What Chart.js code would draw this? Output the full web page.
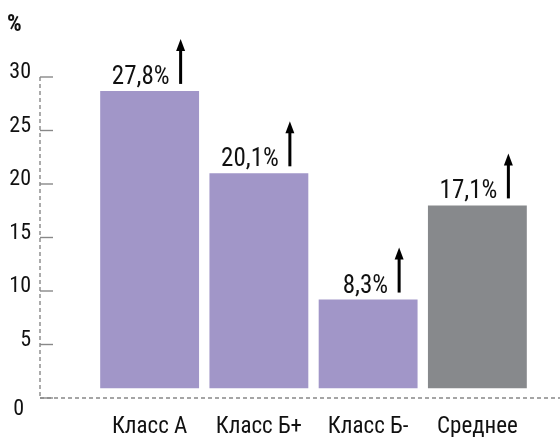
<!DOCTYPE html>
<html>
<head>
<meta charset="utf-8">
<script src="https://cdn.jsdelivr.net/npm/chart.js@4"></script>
<style>
  html, body { margin: 0; padding: 0; background: #fff; }
  #wrap { width: 560px; height: 437px; position: relative; }
</style>
</head>
<body>
<div id="wrap"><canvas id="grafica"></canvas></div>
<script>
// Категории и значения
const categorias = ["Класс А", "Класс Б+", "Класс Б-", "Среднее"];
const valores = [27.8, 20.1, 8.3, 17.1];
const etiquetasValor = ["27,8%", "20,1%", "8,3%", "17,1%"];
const ticksY = [0, 5, 10, 15, 20, 25, 30];
const colores = ["#a196c8", "#a196c8", "#a196c8", "#87898c"];
// las barras arrancan un poco por encima del eje
const base = 0.9;

const fuente = '"Roboto Condensed", "Liberation Sans Narrow", "DejaVu Sans Condensed", sans-serif';
const gris = "#888888";

// Ejes punteados, marcas, etiquetas y flechas
const decoracion = {
  id: "decoracion",
  afterDatasetsDraw(chart) {
    const ctx = chart.ctx;
    const x = chart.scales.x, y = chart.scales.y;
    const ejeX = 40, y0 = y.getPixelForValue(0), yTop = y.getPixelForValue(30);
    ctx.save();
    ctx.strokeStyle = gris;
    ctx.lineWidth = 1.4;
    ctx.setLineDash([4, 3]);
    ctx.beginPath();
    ctx.moveTo(ejeX, yTop); ctx.lineTo(ejeX, y0);
    ctx.moveTo(ejeX, y0); ctx.lineTo(560, y0);
    ctx.stroke();
    ctx.setLineDash([]);
    ctx.fillStyle = "#111";
    ctx.font = "22px " + fuente;
    ctx.textAlign = "right";
    ctx.textBaseline = "alphabetic";
    ticksY.forEach(t => {
      const py = y.getPixelForValue(t);
      ctx.beginPath();
      ctx.moveTo(ejeX, py); ctx.lineTo(ejeX + 13, py);
      ctx.stroke();
      // el cero va debajo del eje
      ctx.fillText(String(t), t === 0 ? 24 : 31, t === 0 ? py + 17 : py + 1);
    });
    ctx.textAlign = "left";
    ctx.font = "bold 23px " + fuente;
    ctx.fillText("%", 7, 31);

    // подписи категорий
    ctx.font = "23px " + fuente;
    ctx.textAlign = "center";
    categorias.forEach((c, i) => {
      ctx.fillText(c, x.getPixelForValue(i), 433);
    });

    // подписи значений и стрелки
    valores.forEach((v, i) => {
      const cx = x.getPixelForValue(i);
      const top = y.getPixelForValue(base + v);
      ctx.font = "25px " + fuente;
      ctx.textAlign = "right";
      ctx.fillText(etiquetasValor[i], cx + 20, top - 7);
      const ax = cx + 31, ay1 = top - 7, ay2 = top - 52;
      ctx.fillStyle = "#000";
      ctx.fillRect(ax - 1.5, ay2 + 8, 3, ay1 - ay2 - 8);
      ctx.beginPath();
      ctx.moveTo(ax, ay2);
      ctx.lineTo(ax - 4.5, ay2 + 12);
      ctx.lineTo(ax + 4.5, ay2 + 12);
      ctx.closePath();
      ctx.fill();
      ctx.fillStyle = "#111";
    });
    ctx.restore();
  }
};

new Chart(document.querySelector("#grafica"), {
  type: "bar",
  data: {
    labels: categorias,
    datasets: [{
      data: valores.map(v => [base, base + v]),
      backgroundColor: colores,
      borderWidth: 0,
      barPercentage: 0.905,
      categoryPercentage: 1
    }]
  },
  options: {
    responsive: true,
    maintainAspectRatio: false,
    animation: false,
    layout: { padding: { left: 95, right: 28, top: 77, bottom: 39 } },
    plugins: { legend: { display: false }, tooltip: { enabled: false } },
    scales: {
      x: { display: false },
      y: { display: false, min: 0, max: 30 }
    }
  },
  plugins: [decoracion]
});
</script>
</body>
</html>
